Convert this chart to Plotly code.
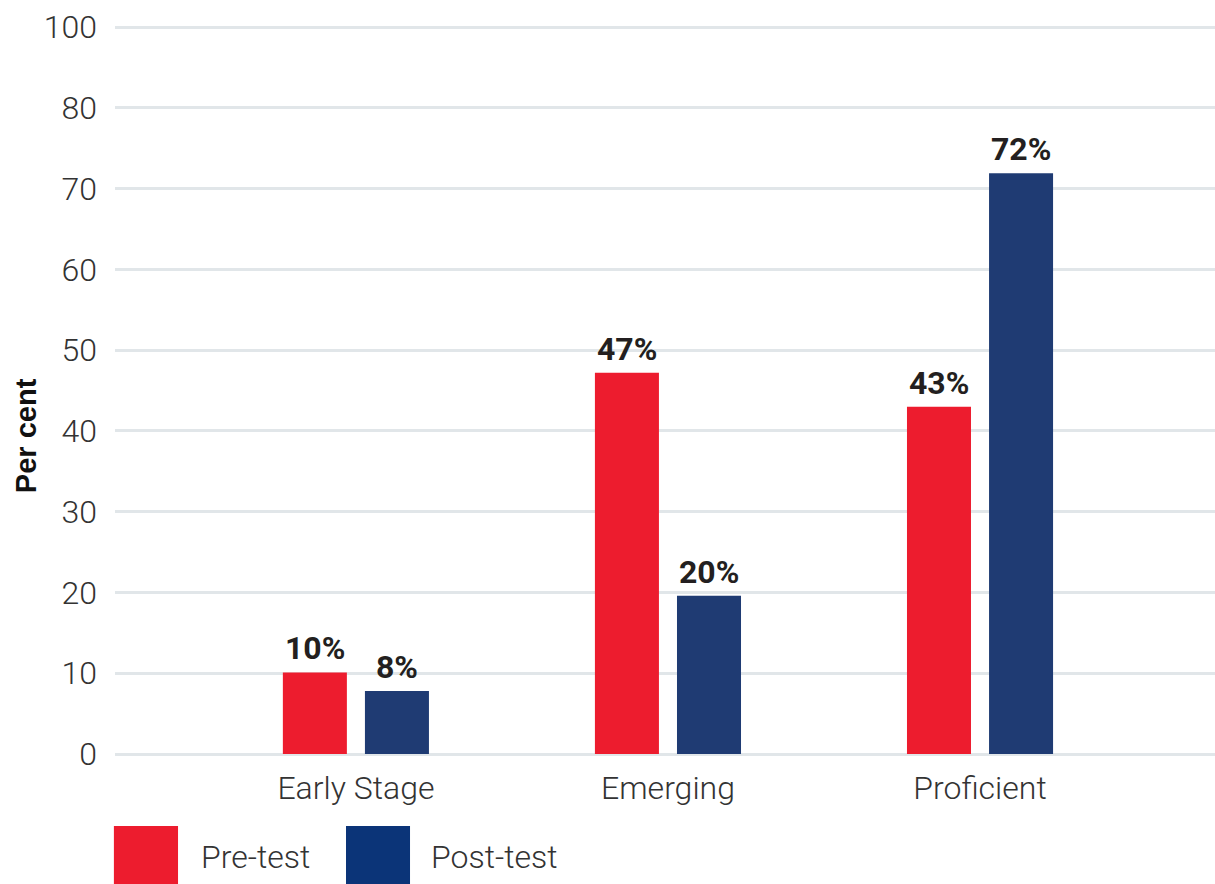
import plotly.graph_objects as go

categories = ["Early Stage", "Emerging", "Proficient"]
pre_test = [10.1, 47.2, 43.0]
post_test = [7.8, 19.6, 71.9]
pre_labels = ["10%", "47%", "43%"]
post_labels = ["8%", "20%", "72%"]
y_tickvals = [0, 10, 20, 30, 40, 50, 60, 70, 80, 90]
y_ticktext = ["0", "10", "20", "30", "40", "50", "60", "70", "80", "100"]

RED = "#ED1C2E"
NAVY = "#1F3B73"
NAVY_LEG = "#0B3478"
GRID = "#E1E6E9"
TXT = "#333333"

xpos = list(range(len(categories)))

fig = go.Figure()
fig.add_trace(go.Bar(x=xpos, y=pre_test, name="Pre-test", marker=dict(color=RED, line=dict(width=0))))
fig.add_trace(go.Bar(x=xpos, y=post_test, name="Post-test", marker=dict(color=NAVY, line=dict(width=0))))

off = 0.1315
lab_font = dict(family="Roboto", size=32, color="#231F20")
for i, (v, t) in enumerate(zip(pre_test, pre_labels)):
    fig.add_annotation(x=xpos[i] - off, y=v, text="<b>%s</b>" % t, showarrow=False,
                       yanchor="bottom", yshift=3, font=lab_font)
for i, (v, t) in enumerate(zip(post_test, post_labels)):
    fig.add_annotation(x=xpos[i] + off, y=v, text="<b>%s</b>" % t, showarrow=False,
                       yanchor="bottom", yshift=3, font=lab_font)

# y-axis title
fig.add_annotation(x=-0.081, y=0.429, xref="paper", yref="paper", text="<b>Per cent</b>",
                   textangle=-90, showarrow=False, xanchor="center", yanchor="middle",
                   font=dict(family="Liberation Sans", size=29, color="#111111"))

# custom legend
leg = [("Pre-test", RED, -0.001, 0.0573, 0.0765), ("Post-test", NAVY_LEG, 0.2100, 0.2682, 0.2855)]
for name, col, x0, x1, tx in leg:
    fig.add_shape(type="rect", xref="paper", yref="paper", x0=x0, x1=x1, y0=-0.1750, y1=-0.0969,
                  fillcolor=col, line=dict(width=0))
    fig.add_annotation(x=tx, y=-0.139, xref="paper", yref="paper", text=name, showarrow=False,
                       xanchor="left", yanchor="middle",
                       font=dict(family="Roboto", size=32, color=TXT, weight=300))

tick_font = dict(family="Roboto", size=32, color=TXT, weight=300)
fig.update_layout(
    width=1215, height=884,
    margin=dict(l=115, r=0, t=11, b=130),
    paper_bgcolor="white", plot_bgcolor="white",
    barmode="group", bargap=0.474, bargroupgap=0.22,
    showlegend=False,
    font=dict(family="Roboto", color=TXT),
    xaxis=dict(range=[-0.772, 2.753], tickvals=xpos, ticktext=categories, showgrid=False,
               zeroline=False, showline=False, ticks="", ticklabelstandoff=12,
               tickfont=tick_font),
    yaxis=dict(range=[0, 92], tickvals=y_tickvals, ticktext=y_ticktext, showgrid=True,
               gridcolor=GRID, gridwidth=2.5, zeroline=True, zerolinecolor=GRID, zerolinewidth=2.5,
               showline=False, ticks="", ticklabelstandoff=17,
               tickfont=tick_font),
)

fig.write_html("out.html")
